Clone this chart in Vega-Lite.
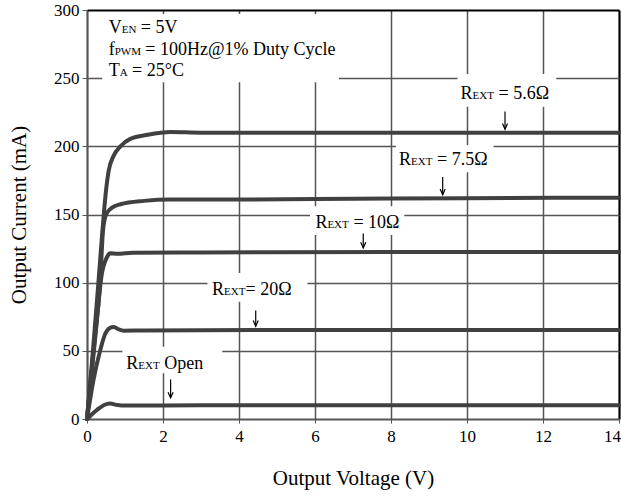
{
  "$schema": "https://vega.github.io/schema/vega-lite/v6.json",
  "width": 532,
  "height": 409,
  "autosize": "none",
  "padding": {"left": 87, "top": 10, "right": 2, "bottom": 80},
  "background": "white",
  "config": {"view": {"stroke": null}, "font": "Liberation Serif"},
  "datasets": {
    "curves": [
      {"s": "5.6", "x": 0, "y": 0}, {"s": "5.6", "x": 0.15, "y": 48}, {"s": "5.6", "x": 0.3, "y": 100}, {"s": "5.6", "x": 0.4, "y": 136}, {"s": "5.6", "x": 0.46, "y": 156}, {"s": "5.6", "x": 0.51, "y": 170}, {"s": "5.6", "x": 0.57, "y": 182}, {"s": "5.6", "x": 0.7, "y": 193}, {"s": "5.6", "x": 0.88, "y": 200}, {"s": "5.6", "x": 1.14, "y": 205.5}, {"s": "5.6", "x": 1.6, "y": 208.5}, {"s": "5.6", "x": 2.2, "y": 210.5}, {"s": "5.6", "x": 3, "y": 210}, {"s": "5.6", "x": 6, "y": 210}, {"s": "5.6", "x": 10, "y": 210}, {"s": "5.6", "x": 14, "y": 210},
      {"s": "7.5", "x": 0, "y": 0}, {"s": "7.5", "x": 0.17, "y": 50}, {"s": "7.5", "x": 0.35, "y": 102}, {"s": "7.5", "x": 0.42, "y": 138}, {"s": "7.5", "x": 0.47, "y": 147}, {"s": "7.5", "x": 0.52, "y": 151}, {"s": "7.5", "x": 0.66, "y": 155}, {"s": "7.5", "x": 0.88, "y": 157.5}, {"s": "7.5", "x": 1.5, "y": 160}, {"s": "7.5", "x": 2.2, "y": 161}, {"s": "7.5", "x": 4, "y": 161}, {"s": "7.5", "x": 7, "y": 161.5}, {"s": "7.5", "x": 10, "y": 162}, {"s": "7.5", "x": 14, "y": 162.3},
      {"s": "10", "x": 0, "y": 0}, {"s": "10", "x": 0.2, "y": 55}, {"s": "10", "x": 0.4, "y": 108}, {"s": "10", "x": 0.47, "y": 115}, {"s": "10", "x": 0.53, "y": 119}, {"s": "10", "x": 0.61, "y": 121.5}, {"s": "10", "x": 0.8, "y": 121.2}, {"s": "10", "x": 1.2, "y": 122}, {"s": "10", "x": 3, "y": 122.2}, {"s": "10", "x": 8, "y": 122.5}, {"s": "10", "x": 14, "y": 122.5},
      {"s": "20", "x": 0, "y": 0}, {"s": "20", "x": 0.17, "y": 28.6}, {"s": "20", "x": 0.35, "y": 50.6}, {"s": "20", "x": 0.48, "y": 62.5}, {"s": "20", "x": 0.6, "y": 66.8}, {"s": "20", "x": 0.7, "y": 67.5}, {"s": "20", "x": 0.82, "y": 66}, {"s": "20", "x": 0.96, "y": 64.8}, {"s": "20", "x": 1.5, "y": 65}, {"s": "20", "x": 6, "y": 65.3}, {"s": "20", "x": 14, "y": 65.3},
      {"s": "open", "x": 0, "y": 0}, {"s": "open", "x": 0.13, "y": 3.5}, {"s": "open", "x": 0.26, "y": 6.6}, {"s": "open", "x": 0.45, "y": 10.3}, {"s": "open", "x": 0.61, "y": 11.3}, {"s": "open", "x": 0.8, "y": 10.3}, {"s": "open", "x": 1.0, "y": 9.9}, {"s": "open", "x": 3, "y": 10}, {"s": "open", "x": 14, "y": 10}
    ],
    "boxes": [
      {"x": 0.4, "x2": 6.63, "y": 247, "y2": 297},
      {"x": 9.75, "x2": 12.35, "y": 229, "y2": 253},
      {"x": 8.13, "x2": 10.7, "y": 181, "y2": 201},
      {"x": 5.87, "x2": 8.35, "y": 135, "y2": 156},
      {"x": 3.17, "x2": 5.8, "y": 86, "y2": 107},
      {"x": 0.93, "x2": 3.56, "y": 33.5, "y2": 53}
    ],
    "labels": [
      {"g": "R", "x": 9.83, "y": 234.5, "main": "R", "sub": "EXT", "rest": "= 5.6Ω"},
      {"g": "R", "x": 8.21, "y": 186.3, "main": "R", "sub": "EXT", "rest": "= 7.5Ω"},
      {"g": "R", "x": 6.01, "y": 140.3, "main": "R", "sub": "EXT", "rest": "= 10Ω"},
      {"g": "R0", "x": 3.29, "y": 91, "main": "R", "sub": "EXT", "rest": "= 20Ω"},
      {"g": "R", "x": 1.035, "y": 36.4, "main": "R", "sub": "EXT", "rest": "Open"},
      {"g": "V", "x": 0.57, "y": 283, "main": "V", "sub": "EN", "rest": "= 5V"},
      {"g": "f", "x": 0.57, "y": 267, "main": "f", "sub": "PWM", "rest": "= 100Hz@1% Duty Cycle"},
      {"g": "T", "x": 0.57, "y": 251.6, "main": "T", "sub": "A", "rest": "= 25°C"}
    ],
    "arrows": [
      {"x": 11.0, "y": 225.5, "y2": 212.5},
      {"x": 9.36, "y": 177.5, "y2": 164.5},
      {"x": 7.27, "y": 136, "y2": 125.5},
      {"x": 4.44, "y": 79.5, "y2": 68},
      {"x": 2.2, "y": 29, "y2": 15.5}
    ]
  },
  "encoding": {
    "x": {
      "field": "x", "type": "quantitative",
      "scale": {"domain": [0, 14], "nice": false, "zero": false},
      "axis": {
        "values": [0, 2, 4, 6, 8, 10, 12, 14],
        "title": "Output Voltage (V)",
        "grid": true,
        "gridColor": {"condition": {"test": "datum.value === 14", "value": "#000"}, "value": "#555"},
        "gridWidth": {"condition": {"test": "datum.value === 14 || datum.value === 0", "value": 2.2}, "value": 1.5},
        "domain": false,
        "ticks": true, "tickSize": 4, "tickColor": "#555",
        "labelPadding": 5, "labelFont": "Liberation Serif", "labelFontSize": 17, "labelColor": "#000", "labelFlush": false,
        "labelOffset": {"condition": {"test": "datum.value === 14", "value": -7}, "value": 0},
        "titleFont": "Liberation Serif", "titleFontSize": 21, "titleFontWeight": "normal", "titleColor": "#000", "titlePadding": 23
      }
    },
    "y": {
      "field": "y", "type": "quantitative",
      "scale": {"domain": [0, 300], "nice": false},
      "axis": {
        "values": [0, 50, 100, 150, 200, 250, 300],
        "title": "Output Current (mA)",
        "grid": true,
        "gridColor": {"condition": {"test": "datum.value === 300", "value": "#000"}, "value": "#555"},
        "gridWidth": {"condition": {"test": "datum.value === 300 || datum.value === 0", "value": 2.2}, "value": 1.5},
        "domain": false,
        "ticks": true, "tickSize": 5, "tickColor": "#555",
        "labelPadding": 3, "labelFont": "Liberation Serif", "labelFontSize": 17, "labelColor": "#000", "labelFlush": false,
        "titleFont": "Liberation Serif", "titleFontSize": 21, "titleFontWeight": "normal", "titleColor": "#000", "titlePadding": 24
      }
    }
  },
  "layer": [
    {
      "data": {"name": "boxes"},
      "mark": {"type": "rect", "fill": "white", "stroke": null},
      "encoding": {"x2": {"field": "x2"}, "y2": {"field": "y2"}}
    },
    {
      "data": {"name": "curves"},
      "mark": {"type": "line", "color": "#404040", "strokeWidth": 4, "interpolate": "monotone", "strokeCap": "round", "strokeJoin": "round"},
      "encoding": {"detail": {"field": "s"}}
    },
    {
      "data": {"name": "arrows"},
      "mark": {"type": "rule", "color": "#000", "strokeWidth": 1.2},
      "encoding": {"y2": {"field": "y2"}}
    },
    {
      "data": {"name": "arrows"},
      "mark": {"type": "point", "shape": "M-0.8,-1.8L0,0L0.8,-1.8", "filled": false, "stroke": "#000", "strokeWidth": 1.2, "size": 40, "opacity": 1},
      "encoding": {"y": {"field": "y2", "type": "quantitative"}}
    },
    {
      "data": {"name": "labels"},
      "mark": {"type": "text", "align": "left", "baseline": "alphabetic", "font": "Liberation Serif", "fontSize": 18, "color": "#000"},
      "encoding": {"text": {"field": "main"}}
    },
    {
      "data": {"name": "labels"},
      "transform": [{"filter": "datum.g === 'R' || datum.g === 'R0'"}],
      "mark": {"type": "text", "align": "left", "baseline": "alphabetic", "font": "Liberation Serif", "fontSize": 11, "color": "#000", "dx": 12},
      "encoding": {"text": {"field": "sub"}}
    },
    {
      "data": {"name": "labels"},
      "transform": [{"filter": "datum.g === 'R'"}],
      "mark": {"type": "text", "align": "left", "baseline": "alphabetic", "font": "Liberation Serif", "fontSize": 18, "color": "#000", "dx": 38},
      "encoding": {"text": {"field": "rest"}}
    },
    {
      "data": {"name": "labels"},
      "transform": [{"filter": "datum.g === 'R0'"}],
      "mark": {"type": "text", "align": "left", "baseline": "alphabetic", "font": "Liberation Serif", "fontSize": 18, "color": "#000", "dx": 33.6},
      "encoding": {"text": {"field": "rest"}}
    },
    {
      "data": {"name": "labels"},
      "transform": [{"filter": "datum.g === 'V'"}],
      "layer": [
        {"mark": {"type": "text", "align": "left", "baseline": "alphabetic", "font": "Liberation Serif", "fontSize": 11, "color": "#000", "dx": 13}, "encoding": {"text": {"field": "sub"}}},
        {"mark": {"type": "text", "align": "left", "baseline": "alphabetic", "font": "Liberation Serif", "fontSize": 18, "color": "#000", "dx": 32.2}, "encoding": {"text": {"field": "rest"}}}
      ]
    },
    {
      "data": {"name": "labels"},
      "transform": [{"filter": "datum.g === 'f'"}],
      "layer": [
        {"mark": {"type": "text", "align": "left", "baseline": "alphabetic", "font": "Liberation Serif", "fontSize": 11, "color": "#000", "dx": 6}, "encoding": {"text": {"field": "sub"}}},
        {"mark": {"type": "text", "align": "left", "baseline": "alphabetic", "font": "Liberation Serif", "fontSize": 18, "color": "#000", "dx": 36.6}, "encoding": {"text": {"field": "rest"}}}
      ]
    },
    {
      "data": {"name": "labels"},
      "transform": [{"filter": "datum.g === 'T'"}],
      "layer": [
        {"mark": {"type": "text", "align": "left", "baseline": "alphabetic", "font": "Liberation Serif", "fontSize": 11, "color": "#000", "dx": 11}, "encoding": {"text": {"field": "sub"}}},
        {"mark": {"type": "text", "align": "left", "baseline": "alphabetic", "font": "Liberation Serif", "fontSize": 18, "color": "#000", "dx": 23.4}, "encoding": {"text": {"field": "rest"}}}
      ]
    }
  ]
}
